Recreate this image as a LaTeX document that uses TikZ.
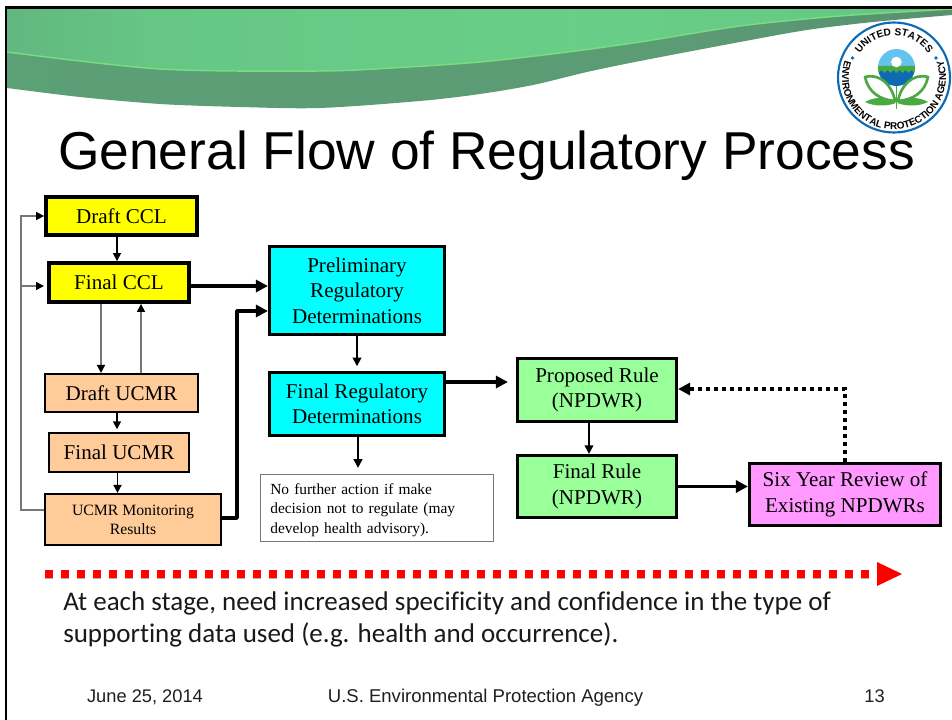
\documentclass[tikz,border=0pt]{standalone}
\usepackage{fontspec}
\setmainfont{Liberation Serif}
\newfontfamily\arialf{Liberation Sans}
\newfontfamily\calibrif{Carlito}[Ligatures=NoCommon]
\usetikzlibrary{arrows.meta,decorations.text}
\definecolor{boxyellow}{HTML}{FFFF00}
\definecolor{boxorange}{HTML}{FFCC99}
\definecolor{boxcyan}{HTML}{00FFFF}
\definecolor{boxgreen}{HTML}{99FF99}
\definecolor{boxpink}{HTML}{FF99FF}
\definecolor{logoblue}{HTML}{0F6AB4}
\definecolor{logosky}{HTML}{63C2EE}
\definecolor{logogreen}{HTML}{4BA943}
\definecolor{thinline}{HTML}{777777}
\definecolor{bandlight}{HTML}{76DE80}
\pgfdeclarehorizontalshading{topbandg}{100bp}{
  rgb(0bp)=(0.31,0.53,0.42);
  rgb(12bp)=(0.36,0.62,0.47);
  rgb(33bp)=(0.40,0.78,0.52);
  rgb(55bp)=(0.41,0.81,0.53);
  rgb(72bp)=(0.40,0.78,0.52);
  rgb(86bp)=(0.36,0.65,0.47);
  rgb(100bp)=(0.33,0.55,0.43)}
\pgfdeclarehorizontalshading{lowband}{100bp}{
  rgb(0bp)=(0.37,0.68,0.48);
  rgb(30bp)=(0.36,0.62,0.46);
  rgb(60bp)=(0.36,0.61,0.46);
  rgb(80bp)=(0.34,0.55,0.43);
  rgb(100bp)=(0.31,0.50,0.40)}
\tikzset{
  px/.style={x=0.75pt,y=-0.75pt},
  flowbox/.style={draw=black,align=center,inner sep=0pt,
    font=\fontsize{15.8pt}{19.1pt}\selectfont},
  heavybox/.style={flowbox,line width=2.9pt},
  plainbox/.style={flowbox,line width=1.6pt},
  midbox/.style={flowbox,line width=2pt},
  notebox/.style={draw=thinline,line width=0.9pt,align=left,inner xsep=7.5pt,inner ysep=0pt,
    font=\fontsize{11.55pt}{14.7pt}\selectfont},
  thinarrow/.style={draw=thinline,line width=1.2pt,-{Triangle[color=black,length=6pt,width=6pt]}},
  midarrow/.style={draw=black,line width=1.4pt,-{Triangle[length=6.5pt,width=6.5pt]}},
  thickarrow/.style={draw=black,line width=2.8pt,-{Triangle[length=9pt,width=9pt]}},
  slabel/.style={font=\arialf\fontsize{13.7pt}{16pt}\selectfont,anchor=base,text=black!88},
  caption/.style={font=\calibrif\fontsize{20.25pt}{24pt}\selectfont,anchor=base west,inner sep=0pt,align=left,text=black!90},
}
\begin{document}
\begin{tikzpicture}[px]
\useasboundingbox (0,0) rectangle (952,720);
% slide frame
\fill[white] (0,0) rectangle (952,720);
% banner
\shade[shading=lowband] (7,52) -- plot[smooth] coordinates {(7,52) (160,69) (320,71) (400,67.5) (480,62) (560,53) (640,42) (740,26) (840,16) (952,9)}
  -- (952,15) -- plot[smooth] coordinates {(952,15) (873,22) (807,30) (740,42) (640,61) (587,72) (533,85) (480,94) (420,101) (320,108) (240,107) (160,104) (80,97) (7,88)} -- cycle;
\shade[shading=topbandg] (7,9) -- (952,9) -- plot[smooth] coordinates {(952,9) (840,16) (740,26) (640,42) (560,53) (480,62) (400,67.5) (320,71) (160,69) (7,52)} -- cycle;
\draw[bandlight,line width=1.1pt] plot[smooth] coordinates {(7,52) (160,69) (320,71) (400,67.5) (480,62) (560,53) (640,42) (740,26) (840,16) (952,9)};
\fill[black] (5,6) rectangle (952,9);
\fill[black] (5,6) rectangle (7.3,720);
% seal
\fill[white] (894,77.5) ellipse [x radius=57,y radius=56];
\draw[logoblue,line width=1.6pt] (894,77.5) ellipse [x radius=56,y radius=55];
\begin{scope}
  \clip (896.5,67.5) circle [radius=18.5];
  \fill[logosky] (877,48) rectangle (916,67);
  \fill[logoblue] (877,67) rectangle (916,87);
  \fill[logogreen] (877,66) -- plot[domain=877:916,samples=70] (\x,{71.5+1.2*sin(60*(\x-877))}) -- (916,66) -- cycle;
\end{scope}
\fill[white] (896.4,62) circle [radius=5.3];
\draw[logogreen,line width=2pt,line join=round] (865,77) .. controls (880,73) and (892,85) .. (895,101) .. controls (880,100) and (868,92) .. (865,77) -- cycle;
\draw[logogreen,line width=2pt,line join=round] (928,77) .. controls (913,73) and (901,85) .. (898,101) .. controls (913,100) and (925,92) .. (928,77) -- cycle;
\fill[logogreen] (865,102) .. controls (875,96) and (888,97) .. (896,103) .. controls (888,106) and (875,107) .. (865,102) -- cycle;
\fill[logogreen] (928,102) .. controls (918,96) and (905,97) .. (897,103) .. controls (905,106) and (918,107) .. (928,102) -- cycle;
\draw[logogreen,line width=1.3pt] (896.4,86) -- (896.4,109);
\fill[logoblue] (852.5,58) circle [radius=1.8];
\fill[logoblue] (936,58) circle [radius=1.8];
\begin{scope}[shift={(894,77.5)},x=0.75pt,y=0.75pt,text=logoblue]
  \path[decorate,decoration={text along path,text align=center,
    text={|\arialf\bfseries\fontsize{7.6pt}{9pt}\selectfont|UNITED STATES}}]
    (150:42) arc [start angle=150,end angle=30,radius=42];
  \path[decorate,decoration={text along path,text align=center,
    text={|\arialf\bfseries\fontsize{7.4pt}{8pt}\selectfont|ENVIRONMENTAL PROTECTION AGENCY}}]
    (150:52) arc [start angle=150,end angle=390,radius=52];
\end{scope}
% title
\node[font=\arialf\fontsize{40pt}{44pt}\selectfont,anchor=base] (title) at (486.5,170) {General Flow of Regulatory Process};
% boxes
\node[heavybox,fill=boxyellow,minimum width=151*0.75pt,minimum height=38*0.75pt] (dc) at (121.5,216) {Draft CCL};
\node[heavybox,fill=boxyellow,minimum width=140*0.75pt,minimum height=39*0.75pt] (fc) at (119,282.5) {Final CCL};
\node[plainbox,fill=boxorange,minimum width=153*0.75pt,minimum height=38*0.75pt] (du) at (121.5,393) {Draft UCMR};
\node[plainbox,fill=boxorange,minimum width=140*0.75pt,minimum height=39*0.75pt] (fu) at (119,452.5) {Final UCMR};
\node[plainbox,fill=boxorange,minimum width=176*0.75pt,minimum height=51*0.75pt,font=\fontsize{11.8pt}{14.4pt}\selectfont] (mon) at (133,519.5) {UCMR Monitoring\\Results};
\node[midbox,fill=boxcyan,minimum width=175.5*0.75pt,minimum height=88.5*0.75pt] (pre) at (357,290.5) {Preliminary\\Regulatory\\Determinations};
\node[midbox,fill=boxcyan,minimum width=175.5*0.75pt,minimum height=63.5*0.75pt] (fr) at (357,404) {Final Regulatory\\Determinations};
\node[notebox,minimum width=231*0.75pt,minimum height=67*0.75pt,text width=160pt] (nf) at (377,508) {\rule{0pt}{11pt}No further action if make\\decision not to regulate (may\\develop health advisory).};
\node[midbox,fill=boxgreen,minimum width=159.5*0.75pt,minimum height=63.5*0.75pt] (pr) at (597,390) {Proposed Rule\\(NPDWR)};
\node[midbox,fill=boxgreen,minimum width=159.5*0.75pt,minimum height=62.5*0.75pt] (fn) at (597,486.5) {Final Rule\\(NPDWR)};
\node[midbox,fill=boxpink,minimum width=191.5*0.75pt,minimum height=62.5*0.75pt] (six) at (845,494.5) {Six Year Review of\\Existing NPDWRs};
% routing coordinates
\coordinate (rail) at (21,510);
\coordinate (jog) at (237,311);
\coordinate (dottop) at (845,389);
% connectors
\draw[thinarrow,black] (dc.south -| 117,0) -- (fc.north -| 117,0);
\draw[thinarrow] (fc.south -| 101,0) -- (du.north -| 101,0);
\draw[thinarrow] (du.north -| 141,0) -- (fc.south -| 141,0);
\draw[thinarrow,black] (du.south -| 117,0) -- ([yshift=2pt]fu.north -| 117,0);
\draw[thinarrow,black] (fu.south -| 117.5,0) -- (mon.north -| 117.5,0);
\draw[thinarrow] (mon.west |- rail) -- (rail) -- (rail |- dc.west) -- (dc.west);
\draw[thinarrow] (rail |- fc.west) ++(0,3.5) -- ++(23,0);
\draw[thickarrow] (fc.east |- 0,286) -- (pre.west |- 0,286);
\draw[thickarrow,line join=round] (mon.east |- 0,518) -| (jog) -- (pre.west |- jog);
\draw[midarrow] (pre.south) -- ([yshift=3.5pt]fr.north);
\draw[midarrow] (fr.south -| 358,0) -- ([yshift=4.5pt]nf.north -| 358,0);
\draw[thickarrow,shorten >=6pt] (fr.east |- 0,382) -- (pr.west |- 0,382);
\draw[midarrow] (pr.south -| 589,0) -- (fn.north -| 589,0);
\draw[thickarrow] (fn.east) -- (six.west |- fn.east);
\draw[draw=black,line width=2.8pt,dash pattern=on 3pt off 3pt,-{Triangle[length=9pt,width=9pt]}] (six.north) -- (dottop) -- (pr.east |- dottop);
% timeline arrow
\coordinate (tl0) at (45,574);
\coordinate (tl1) at (871,574);
\draw[black!30,line width=6.2pt,dash pattern=on 6.2pt off 5.8pt] ([yshift=-0.8pt]tl0) -- ([yshift=-0.8pt]tl1);
\draw[red,line width=6.2pt,dash pattern=on 6.2pt off 5.8pt] (tl0) -- (tl1);
\fill[red] (877,562) -- (902,574) -- (877,586) -- cycle;
% caption
\node[caption] (cap1) at (63,610) {At each stage, need increased specificity and confidence in the type of};
\node[caption] (cap2) at (63,642) {supporting data used (e.g. health and occurrence).};
% footer
\node[slabel] (f1) at (145,702) {June 25, 2014};
\node[slabel,font=\arialf\fontsize{13.9pt}{16pt}\selectfont] (f2) at (485.5,702) {U.S. Environmental Protection Agency};
\node[slabel] (f3) at (874.5,702) {13};
\end{tikzpicture}
\end{document}
